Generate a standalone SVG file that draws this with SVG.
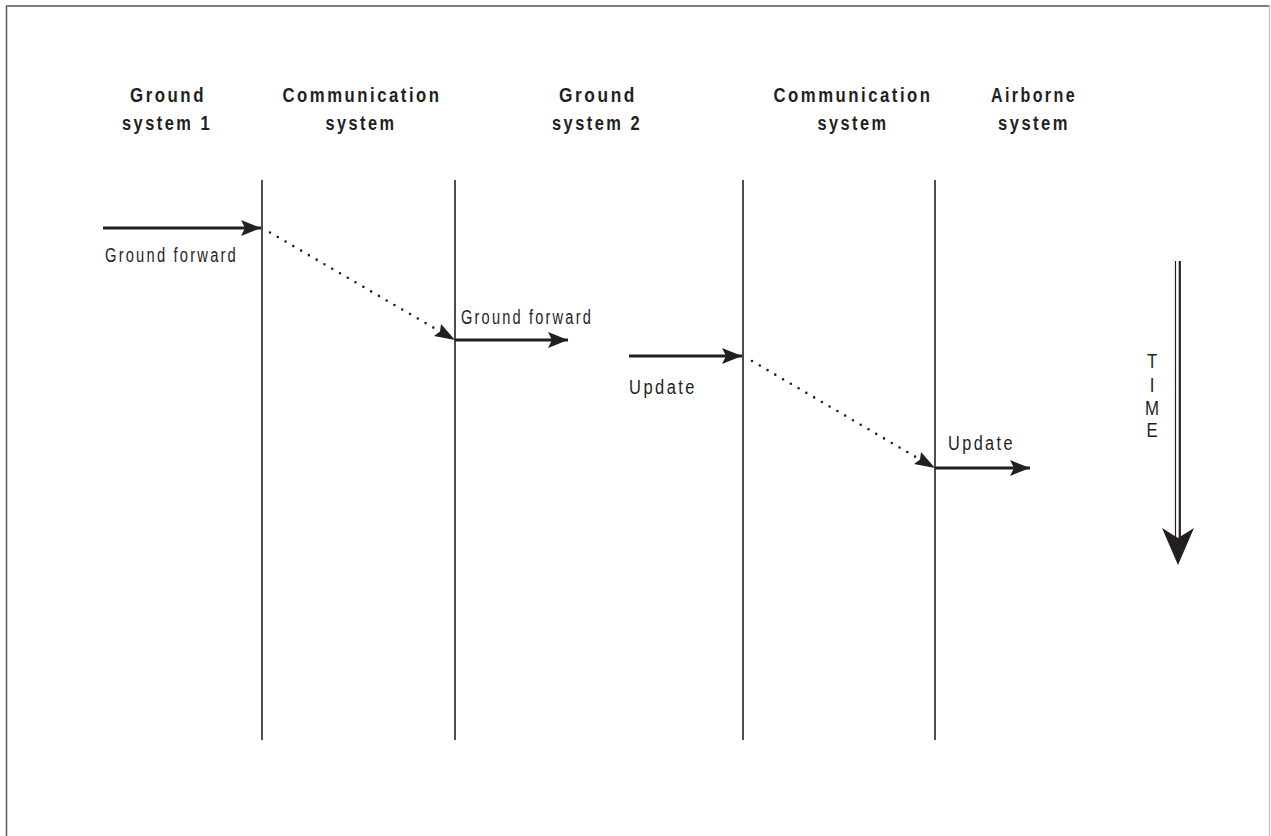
<svg xmlns="http://www.w3.org/2000/svg" width="1271" height="836" viewBox="0 0 1271 836">
  <style>
    .head { font-family: "Liberation Sans", Arial, sans-serif; font-weight: bold; font-size: 20px; fill: #231f20; text-anchor: middle; letter-spacing: 3px; }
    .lbl { font-family: "Liberation Sans", Arial, sans-serif; font-size: 20px; fill: #231f20; letter-spacing: 3px; }
    .time { font-family: "Liberation Sans", Arial, sans-serif; font-size: 21px; fill: #231f20; text-anchor: middle; }
    .lane { stroke: #231f20; stroke-width: 1.6; fill: none; }
    .msg { stroke: #231f20; stroke-width: 3.2; fill: none; }
    .relay { stroke: #231f20; stroke-width: 2.6; stroke-linecap: round; stroke-dasharray: 0 9; fill: none; }
  </style>
  <defs>
    <marker id="head" viewBox="0 0 20 16" refX="20" refY="8" markerWidth="20" markerHeight="16" markerUnits="userSpaceOnUse" orient="auto">
      <path d="M0,0 L20,8 L0,16 L4,8 Z" fill="#231f20"/>
    </marker>
  </defs>

  <rect width="1271" height="836" fill="#ffffff"/>
  <!-- frame -->
  <path d="M6.5,836 L6.5,6 L1269.5,6" fill="none" stroke="#5a5858" stroke-width="1.5"/>
  <line x1="1269.5" y1="6" x2="1269.5" y2="836" stroke="#c8c8c8" stroke-width="1.5"/>

  <g id="ground-system-1">
    <text class="head" x="168" y="102" textLength="76" lengthAdjust="spacingAndGlyphs">Ground</text>
    <text class="head" x="167" y="130" textLength="90" lengthAdjust="spacingAndGlyphs">system 1</text>
  </g>
  <g id="communication-system-1">
    <text class="head" x="362" y="102" textLength="159" lengthAdjust="spacingAndGlyphs">Communication</text>
    <text class="head" x="361" y="130" textLength="71" lengthAdjust="spacingAndGlyphs">system</text>
    <line class="lane" x1="262" y1="180" x2="262" y2="740"/>
  </g>
  <g id="ground-system-2">
    <text class="head" x="598" y="102" textLength="78" lengthAdjust="spacingAndGlyphs">Ground</text>
    <text class="head" x="597" y="130" textLength="90" lengthAdjust="spacingAndGlyphs">system 2</text>
    <line class="lane" x1="455" y1="180" x2="455" y2="740"/>
  </g>
  <g id="communication-system-2">
    <text class="head" x="853" y="102" textLength="159" lengthAdjust="spacingAndGlyphs">Communication</text>
    <text class="head" x="853" y="130" textLength="71" lengthAdjust="spacingAndGlyphs">system</text>
    <line class="lane" x1="743" y1="180" x2="743" y2="740"/>
  </g>
  <g id="airborne-system">
    <text class="head" x="1034" y="102" textLength="86" lengthAdjust="spacingAndGlyphs">Airborne</text>
    <text class="head" x="1034" y="130" textLength="72" lengthAdjust="spacingAndGlyphs">system</text>
    <line class="lane" x1="935" y1="180" x2="935" y2="740"/>
  </g>

  <g id="connectors">
    <line class="msg" x1="103" y1="228" x2="261" y2="228" marker-end="url(#head)"/>
    <line class="relay" x1="270" y1="232.5" x2="440" y2="331.5"/>
    <path d="M455,340 L434,336 L440,331.5 L441,324 Z" fill="#231f20"/>
    <line class="msg" x1="455" y1="340" x2="568" y2="340" marker-end="url(#head)"/>

    <line class="msg" x1="629" y1="356" x2="742" y2="356" marker-end="url(#head)"/>
    <line class="relay" x1="752" y1="361" x2="920" y2="459.5"/>
    <path d="M935,468 L914,464 L920,459.5 L921,452 Z" fill="#231f20"/>
    <line class="msg" x1="935" y1="468" x2="1030" y2="468" marker-end="url(#head)"/>

    <text class="lbl" x="105" y="262" textLength="133" lengthAdjust="spacingAndGlyphs">Ground forward</text>
    <text class="lbl" x="461" y="324" textLength="132" lengthAdjust="spacingAndGlyphs">Ground forward</text>
    <text class="lbl" x="629" y="394" textLength="68" lengthAdjust="spacingAndGlyphs">Update</text>
    <text class="lbl" x="948" y="450" textLength="67" lengthAdjust="spacingAndGlyphs">Update</text>
  </g>

  <g id="time-axis">
    <line x1="1175.5" y1="261" x2="1175.5" y2="540" stroke="#231f20" stroke-width="1.2"/>
    <line x1="1179.8" y1="261" x2="1179.8" y2="540" stroke="#231f20" stroke-width="2.2"/>
    <path d="M1162,528 L1178,538 L1194,528 L1178,565 Z" fill="#231f20"/>
    <g transform="translate(1152,0) scale(0.8,1)">
      <text class="time" x="0" y="368">T</text>
      <text class="time" x="0" y="392">I</text>
      <text class="time" x="0" y="415">M</text>
      <text class="time" x="0" y="437">E</text>
    </g>
  </g>
</svg>
